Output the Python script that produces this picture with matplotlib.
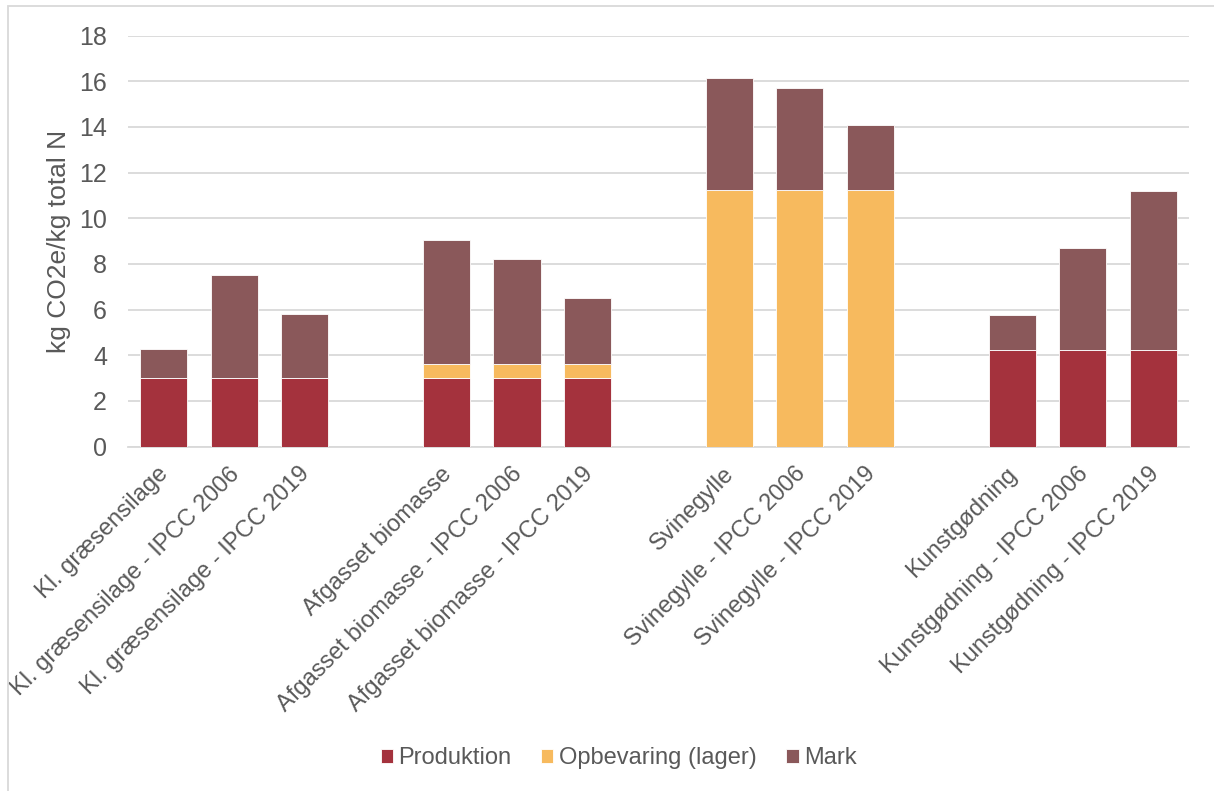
import matplotlib.pyplot as plt
from matplotlib.patches import Rectangle
from matplotlib.transforms import ScaledTranslation
import numpy as np

plt.rcParams['font.family'] = ['Liberation Sans', 'DejaVu Sans']

groups = ['Kl. græsensilage', 'Afgasset biomasse', 'Svinegylle', 'Kunstgødning']
variants = ['', ' - IPCC 2006', ' - IPCC 2019']

# kg CO2e/kg total N, one row per group, one column per variant
produktion = [[3.0, 3.0, 3.0],
              [3.0, 3.0, 3.0],
              [0.0, 0.0, 0.0],
              [4.25, 4.25, 4.25]]
opbevaring = [[0.0, 0.0, 0.0],
              [0.62, 0.62, 0.62],
              [11.22, 11.22, 11.22],
              [0.0, 0.0, 0.0]]
total = [[4.26, 7.5, 5.8],
         [9.03, 8.2, 6.53],
         [16.15, 15.72, 14.07],
         [5.78, 8.7, 11.18]]

c_prod = '#A4323D'
c_opb = '#F7BA5E'
c_mark = '#8A585A'
grey = '#595959'

fig = plt.figure(figsize=(12.14, 7.91), dpi=100)
ax = fig.add_axes([0.1054, 0.4354, 0.8740, 0.5195])

pos, labels = [], []
prod, opb, mark = [], [], []
for g, name in enumerate(groups):
    for v, suf in enumerate(variants):
        pos.append(g * 4 + v)  # one empty slot between groups
        labels.append(name + suf)
        prod.append(produktion[g][v])
        opb.append(opbevaring[g][v])
        mark.append(total[g][v] - produktion[g][v] - opbevaring[g][v])
pos = np.array(pos)
prod, opb, mark = np.array(prod), np.array(opb), np.array(mark)

w = 0.665
kw = dict(width=w, edgecolor='white', linewidth=0.6, zorder=3)
ax.bar(pos, prod, color=c_prod, label='Produktion', **kw)
ax.bar(pos, opb, bottom=prod, color=c_opb, label='Opbevaring (lager)', **kw)
ax.bar(pos, mark, bottom=prod + opb, color=c_mark, label='Mark', **kw)

ax.set_xlim(-0.5, 14.5)
ax.set_ylim(0, 18)
ax.set_yticks(range(0, 19, 2))
ax.yaxis.grid(True, color='#D9D9D9', linewidth=1.3, zorder=0)
ax.set_axisbelow(True)
for s in ['top', 'right', 'left']:
    ax.spines[s].set_visible(False)
ax.spines['bottom'].set_color('#D9D9D9')
ax.spines['bottom'].set_linewidth(1.3)
ax.tick_params(axis='y', length=0, pad=15, labelsize=18, labelcolor=grey)
ax.tick_params(axis='x', length=0, pad=6, labelsize=17, labelcolor=grey)
ax.set_xticks(pos)
ax.set_xticklabels(labels, rotation=45, ha='right', rotation_mode='anchor')
shift = ScaledTranslation(-6 / 100, -8 / 100, fig.dpi_scale_trans)
for t in ax.get_xticklabels():
    t.set_transform(t.get_transform() + shift)
ax.set_ylabel('kg CO2e/kg total N', fontsize=19, color=grey, labelpad=6)

leg = fig.legend(loc='center', bbox_to_anchor=(0.5095, 0.0417), ncol=3, frameon=False,
                 fontsize=17, handlelength=0.52, handleheight=0.52, handletextpad=0.22,
                 columnspacing=1.27)
for t in leg.get_texts():
    t.set_color(grey)

# thin frame around the chart area
fig.patches.append(Rectangle((8 / 1214, -0.1), 1.2, 1 - 6 / 791 + 0.1, transform=fig.transFigure,
                             fill=False, edgecolor='#D9D9D9', linewidth=1.3))

plt.savefig('out.png', dpi=100)
